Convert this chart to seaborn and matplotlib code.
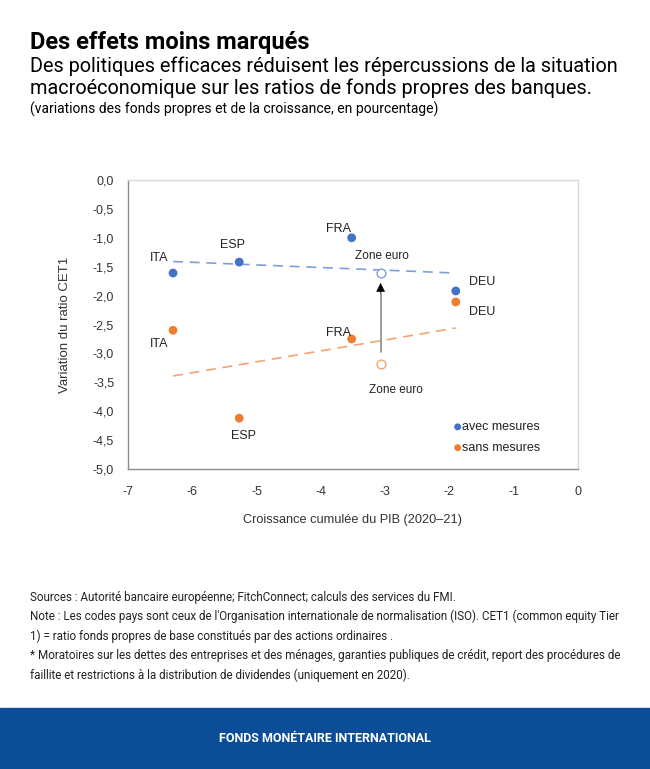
import numpy as np
import pandas as pd
import matplotlib.pyplot as plt
from matplotlib.patches import Rectangle
import seaborn as sns

# data
pays = ["ITA", "ESP", "FRA", "DEU"]
croissance = [-6.30, -5.27, -3.52, -1.90]
cet1_avec = [-1.61, -1.42, -1.00, -1.92]
cet1_sans = [-2.60, -4.12, -2.75, -2.11]
zone_x = -3.07
zone_avec = -1.61
zone_sans = -3.18
trend_x = [-6.30, -1.90]
trend_avec = [-1.41, -1.61]
trend_sans = [-3.39, -2.56]
xticks = [-7, -6, -5, -4, -3, -2, -1, 0]
yticks = [0.0, -0.5, -1.0, -1.5, -2.0, -2.5, -3.0, -3.5, -4.0, -4.5, -5.0]

BLUE = "#4472C4"
ORANGE = "#ED7D31"

sns.set_theme(style="white")
plt.rcParams['font.family'] = ['Liberation Sans', 'DejaVu Sans']

df = pd.DataFrame({
    "pays": pays * 2,
    "x": croissance * 2,
    "y": cet1_avec + cet1_sans,
    "serie": ["avec mesures"] * 4 + ["sans mesures"] * 4,
})

fig = plt.figure(figsize=(6.5, 7.69), dpi=100)
ax = fig.add_axes([0.197, 0.390, 0.692, 0.376])

sns.lineplot(x=trend_x, y=trend_avec, ax=ax, color="#7F9FDB", lw=1.2, linestyle=(0, (6, 4)))
sns.lineplot(x=trend_x, y=trend_sans, ax=ax, color="#F4A470", lw=1.2, linestyle=(0, (6, 4)))
sns.scatterplot(data=df, x="x", y="y", hue="serie", palette=[BLUE, ORANGE],
                s=40, edgecolor="none", ax=ax, legend=False, zorder=3)
ax.scatter([zone_x], [zone_avec], s=40, facecolor="white", edgecolor="#7F9FDB", lw=1, zorder=3)
ax.scatter([zone_x], [zone_sans], s=40, facecolor="white", edgecolor="#F4A470", lw=1, zorder=3)
# arrow: grey shaft, black head
ax.plot([zone_x, zone_x], [-2.98, -1.95], color="#8c8c8c", lw=1.2, zorder=2)
ax.annotate("", xy=(zone_x, -1.78), xytext=(zone_x, -1.96),
            arrowprops=dict(arrowstyle="-|>", lw=0.5, mutation_scale=14,
                            fc="black", ec="black", shrinkA=0, shrinkB=0))

# labels
lab = dict(fontsize=9, color="#222222")
ax.text(-6.38, -1.35, "ITA", ha="right", va="center", **lab)
ax.text(-5.38, -1.12, "ESP", ha="center", va="center", **lab)
ax.text(-3.72, -0.84, "FRA", ha="center", va="center", **lab)
ax.text(-1.70, -1.77, "DEU", ha="left", va="center", **lab)
ax.text(-3.05, -1.32, "Zone euro", ha="center", va="center", fontsize=8.5, color="#222222")
ax.text(-6.38, -2.83, "ITA", ha="right", va="center", **lab)
ax.text(-3.72, -2.65, "FRA", ha="center", va="center", **lab)
ax.text(-5.20, -4.42, "ESP", ha="center", va="center", **lab)
ax.text(-1.70, -2.28, "DEU", ha="left", va="center", **lab)
ax.text(-2.83, -3.64, "Zone euro", ha="center", va="center", fontsize=8.5, color="#222222")

# legend
ax.scatter([-1.87], [-4.27], s=25, color=BLUE, edgecolor="none")
ax.scatter([-1.87], [-4.63], s=25, color=ORANGE, edgecolor="none")
ax.text(-1.80, -4.27, "avec mesures", ha="left", va="center", **lab)
ax.text(-1.80, -4.63, "sans mesures", ha="left", va="center", **lab)

ax.set_xlim(-7, 0)
ax.set_ylim(-5, 0)
ax.set_xticks(xticks)
ax.set_xticklabels([str(t) for t in xticks])
ax.set_yticks(yticks)
ax.set_yticklabels([f"{t:.1f}".replace(".", ",") for t in yticks])
ax.tick_params(axis="both", labelsize=9, colors="#333333", length=0, pad=12)
ax.tick_params(axis="y", pad=10)
for side in ["top", "right"]:
    ax.spines[side].set_color("#d9d9d9")
for side in ["left", "bottom"]:
    ax.spines[side].set_color("#8c8c8c")
for sp in ax.spines.values():
    sp.set_linewidth(1)
ax.set_xlabel("Croissance cumulée du PIB (2020–21)", fontsize=9.2, color="#333333", labelpad=12)
ax.set_ylabel("Variation du ratio CET1", fontsize=9.5, color="#333333", labelpad=16)

# titles
fig.text(30 / 650, 1 - 43 / 769, "Des effets moins marqués", fontsize=17, fontweight="bold",
         family=["Roboto", "DejaVu Sans"], va="center", color="black")
fig.text(30 / 650, 1 - 66 / 769, "Des politiques efficaces réduisent les répercussions de la situation",
         fontsize=14.3, family=["Roboto", "DejaVu Sans"], va="center", color="black")
fig.text(30 / 650, 1 - 88 / 769, "macroéconomique sur les ratios de fonds propres des banques.",
         fontsize=14.3, family=["Roboto", "DejaVu Sans"], va="center", color="black")
fig.text(30 / 650, 1 - 109 / 769, "(variations des fonds propres et de la croissance, en pourcentage)",
         fontsize=10, family=["Roboto", "DejaVu Sans"], va="center", color="black")

notes = [
    "Sources : Autorité bancaire européenne; FitchConnect; calculs des services du FMI.",
    "Note : Les codes pays sont ceux de l'Organisation internationale de normalisation (ISO). CET1 (common equity Tier",
    "1) = ratio fonds propres de base constitués par des actions ordinaires .",
    "* Moratoires sur les dettes des entreprises et des ménages, garanties publiques de crédit, report des procédures de",
    "faillite et restrictions à la distribution de dividendes (uniquement en 2020).",
]
for i, line in enumerate(notes):
    fig.text(30 / 650, 1 - (597 + i * 19.5) / 769, line, fontsize=8.4,
             family=["Liberation Sans Narrow", "Roboto", "DejaVu Sans"], va="center", color="#222222")

# bottom banner
fig.patches.append(Rectangle((0, 0), 1, 61 / 769, transform=fig.transFigure,
                             color="#0B4D96", zorder=0))
fig.text(0.5, 30 / 769, "FONDS MONÉTAIRE INTERNATIONAL", fontsize=9, fontweight="bold",
         color="white", ha="center", va="center", family=["Roboto", "DejaVu Sans"])

fig.savefig("out.png", dpi=100)
